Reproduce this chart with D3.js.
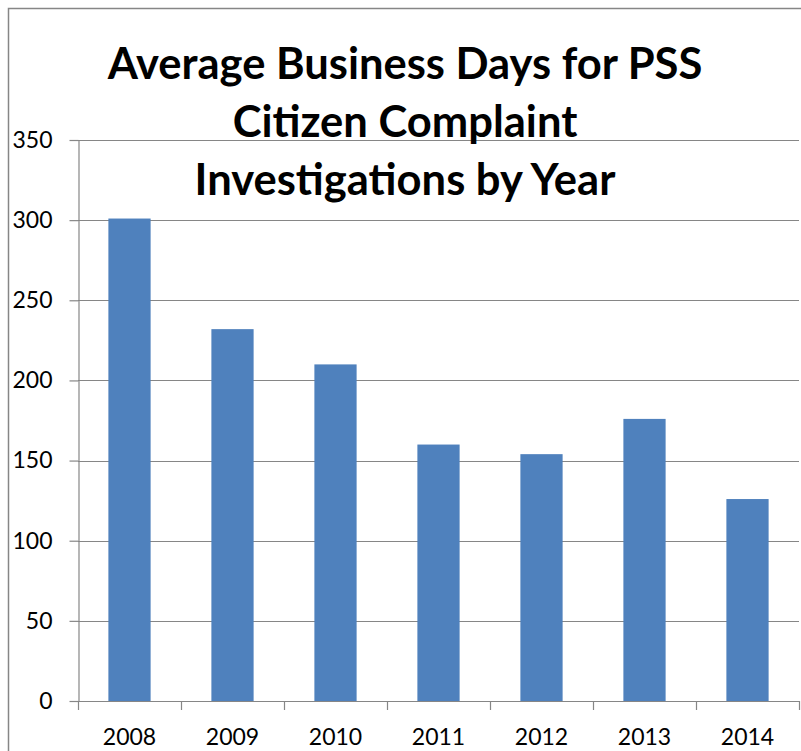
<!DOCTYPE html>
<html>
<head>
<meta charset="utf-8">
<script src="https://cdn.jsdelivr.net/npm/d3@7"></script>
<style>
  body { margin: 0; background: #fff; }
  svg { display: block; }
</style>
</head>
<body>
<div class="canvas"></div>
<script>
// what to show
var years = ['2008', '2009', '2010', '2011', '2012', '2013', '2014'],
    days = [301, 232, 210, 160, 154, 176, 126],
    yTicks = [0, 50, 100, 150, 200, 250, 300, 350],
    titleLines = ['Average Business Days for PSS', 'Citizen Complaint', 'Investigations by Year'];

// where does it live
var width = 801,
    height = 751,
    plot = { left: 78, right: 799, top: 140, bottom: 701 },
    font = 'Lato, "Open Sans", sans-serif',
    grey = '#868686',
    barColor = '#4F81BD';

var svg = d3.select('.canvas').append('svg')
    .attr('width', width)
    .attr('height', height);

// outer chart frame, cut off on right and bottom like the picture
svg.append('rect')
    .attr('x', 8.5).attr('y', 8.5)
    .attr('width', 820).attr('height', 800)
    .attr('fill', 'none')
    .attr('stroke', grey)
    .attr('stroke-width', 1.5);

var x = d3.scaleBand()
    .domain(years)
    .range([plot.left, plot.right])
    .padding(0);

var y = d3.scaleLinear()
    .domain([0, 350])
    .range([plot.bottom, plot.top]);

// fit text to a width
function fit(sel, target) {
    var w = sel.node().getComputedTextLength(),
        fs = parseFloat(sel.attr('font-size'));
    sel.attr('font-size', fs * target / w);
}

// gridlines
svg.append('g')
    .selectAll('line')
    .data(yTicks.filter(function (d) { return d > 0; }))
    .enter()
    .append('line')
    .attr('x1', plot.left)
    .attr('x2', plot.right)
    .attr('y1', function (d) { return Math.round(y(d)) + 0.5; })
    .attr('y2', function (d) { return Math.round(y(d)) + 0.5; })
    .attr('stroke', grey)
    .attr('stroke-width', 1.2);

// bars
var barW = x.bandwidth() * 0.41;
svg.append('g')
    .selectAll('rect')
    .data(days)
    .enter()
    .append('rect')
    .attr('x', function (d, i) { return x(years[i]) + (x.bandwidth() - barW) / 2; })
    .attr('y', function (d) { return y(d); })
    .attr('width', barW)
    .attr('height', function (d) { return y(0) - y(d); })
    .attr('fill', barColor);

// y axis
var yAxis = svg.append('g')
    .attr('transform', 'translate(' + (plot.left + 0.5) + ',0)')
    .call(d3.axisLeft(y).tickValues(yTicks).tickSize(9).tickPadding(17).tickSizeOuter(0));
yAxis.select('.domain').attr('stroke', grey).attr('stroke-width', 1.2);
yAxis.selectAll('.tick line').attr('stroke', grey).attr('stroke-width', 1.2);
yAxis.selectAll('.tick text')
    .attr('font-family', font)
    .attr('font-size', 23)
    .attr('fill', '#000');

// x axis line and boundary ticks
var bounds = years.map(function (d) { return x(d); }).concat([plot.right]);
svg.append('line')
    .attr('x1', plot.left).attr('x2', plot.right)
    .attr('y1', plot.bottom + 0.5).attr('y2', plot.bottom + 0.5)
    .attr('stroke', grey).attr('stroke-width', 1.2);
svg.append('g')
    .selectAll('line')
    .data(bounds)
    .enter()
    .append('line')
    .attr('x1', function (d) { return Math.round(d) + 0.5; })
    .attr('x2', function (d) { return Math.round(d) + 0.5; })
    .attr('y1', plot.bottom)
    .attr('y2', plot.bottom + 9)
    .attr('stroke', grey)
    .attr('stroke-width', 1.2);

svg.append('g')
    .selectAll('text')
    .data(years)
    .enter()
    .append('text')
    .attr('x', function (d) { return x(d) + x.bandwidth() / 2; })
    .attr('y', 745)
    .attr('text-anchor', 'middle')
    .attr('font-family', font)
    .attr('font-size', 23)
    .text(function (d) { return d; });

// title
var title = svg.append('g');
var baselines = [79, 137, 195];
title.selectAll('text')
    .data(titleLines)
    .enter()
    .append('text')
    .attr('x', 405)
    .attr('y', function (d, i) { return baselines[i]; })
    .attr('text-anchor', 'middle')
    .attr('font-family', font)
    .attr('font-weight', 'bold')
    .attr('font-size', 40)
    .text(function (d) { return d; });
var first = title.select('text');
fit(first, 595);
title.selectAll('text').attr('font-size', first.attr('font-size'));
</script>
</body>
</html>
